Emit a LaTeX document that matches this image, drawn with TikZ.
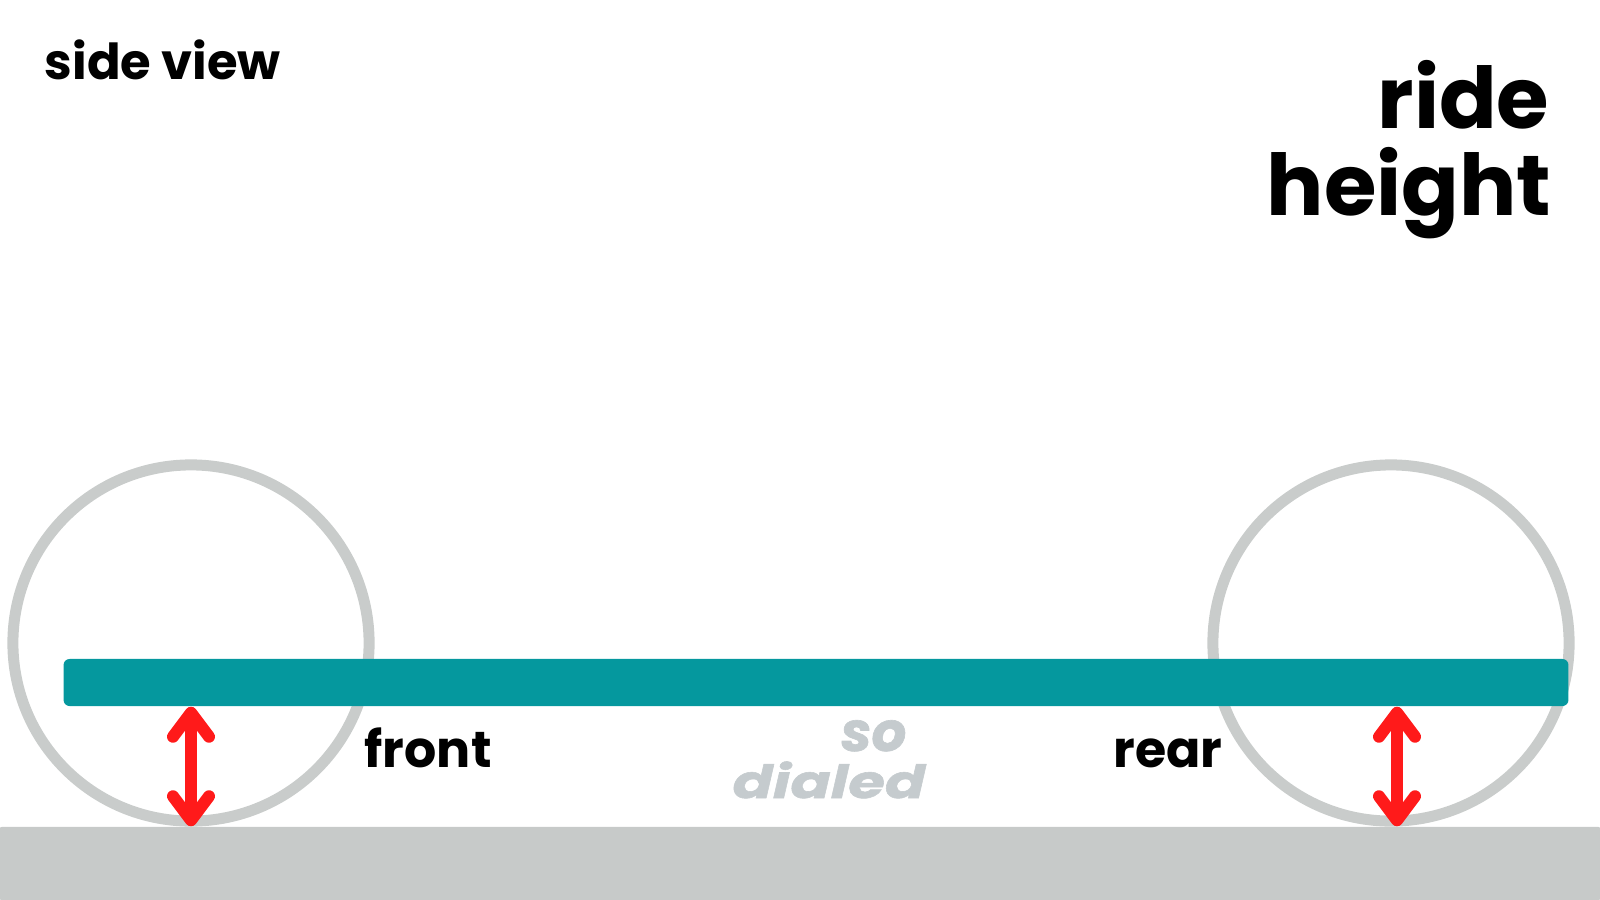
\documentclass[tikz,border=0pt]{standalone}
\usepackage{fontspec}
\setmainfont{Poppins}
\newfontfamily\logofont[FakeStretch=1.3,FakeBold=1.2]{Poppins}
\newfontfamily\logosofont[FakeBold=1.2]{Poppins}
\usetikzlibrary{arrows.meta}
\usetikzlibrary{positioning}
\definecolor{chassisteal}{HTML}{05989E}
\definecolor{wheelgray}{HTML}{C9CCCB}
\definecolor{groundgray}{HTML}{C7CAC9}
\definecolor{logogray}{HTML}{C5CBCE}
\definecolor{arrowred}{HTML}{FF1A1A}
\tikzset{
	wheel/.style={draw=wheelgray, line width=0.11cm, circle, minimum size=3.56cm, inner sep=0pt},
	chassisbar/.style={fill=chassisteal, rounded corners=0.06cm, minimum width=15.04cm, minimum height=0.47cm, inner sep=0pt},
	groundslab/.style={fill=groundgray, rounded corners=0.02cm, minimum width=16cm, minimum height=0.73cm, inner sep=0pt},
	heightarrow/.style={draw=arrowred, line width=0.12cm, line cap=round,
		{Straight Barb[length=0.24cm,width=0.36cm,line cap=round,line join=round]}-{Straight Barb[length=0.24cm,width=0.36cm,line cap=round,line join=round]}},
	smalltitle/.style={font=\bfseries\fontsize{14.1}{17}\selectfont, inner sep=0pt},
	bigtitle/.style={font=\bfseries\fontsize{24.2}{25}\selectfont, inner sep=0pt},
	axlelabel/.style={font=\bfseries\fontsize{14.4}{17}\selectfont, inner sep=0pt},
	logo/.style={text=logogray, inner sep=0pt},
}
\begin{document}
\begin{tikzpicture}[x=0.01cm, y=-0.01cm]
		\useasboundingbox (0,0) rectangle (1600,900);
		% Wheels
		\node [wheel] (frontwheel) at (191,643) {};
		\node [wheel] (rearwheel) at (1391,643) {};
		% Chassis and road
		\node [chassisbar] (chassis) at (816,682.5) {};
		\node [groundslab] (ground) at (800,863.5) {};
		\coordinate (frontgap) at (191,760);
		\coordinate (reargap) at (1397,760);
		% Ride height arrows
		\draw [heightarrow] (chassis.south -| frontgap) -- (ground.north -| frontgap);
		\draw [heightarrow] (chassis.south -| reargap) -- (ground.north -| reargap);
		% Labels
		\node [smalltitle, anchor=base west] (side) at (44,80) {side view};
		\node [bigtitle, anchor=base east] (ride) at (1550,128) {ride};
		\node [bigtitle, anchor=base east] (height) at (1552,215) {height};
		\node [axlelabel, anchor=base west] (front) at (364,767) {front};
		\node [axlelabel, anchor=base east] (rear) at (1223,767) {rear};
		% Logo
		\node [logo, anchor=base east, font=\logosofont\bfseries\itshape\fontsize{15.5}{15.5}\selectfont] (so) at (907,751) {so};
		\node [logo, anchor=base east, font=\logofont\bfseries\itshape\fontsize{13}{13}\selectfont] (dialed) at (926,798) {dialed};
\end{tikzpicture}
\end{document}
